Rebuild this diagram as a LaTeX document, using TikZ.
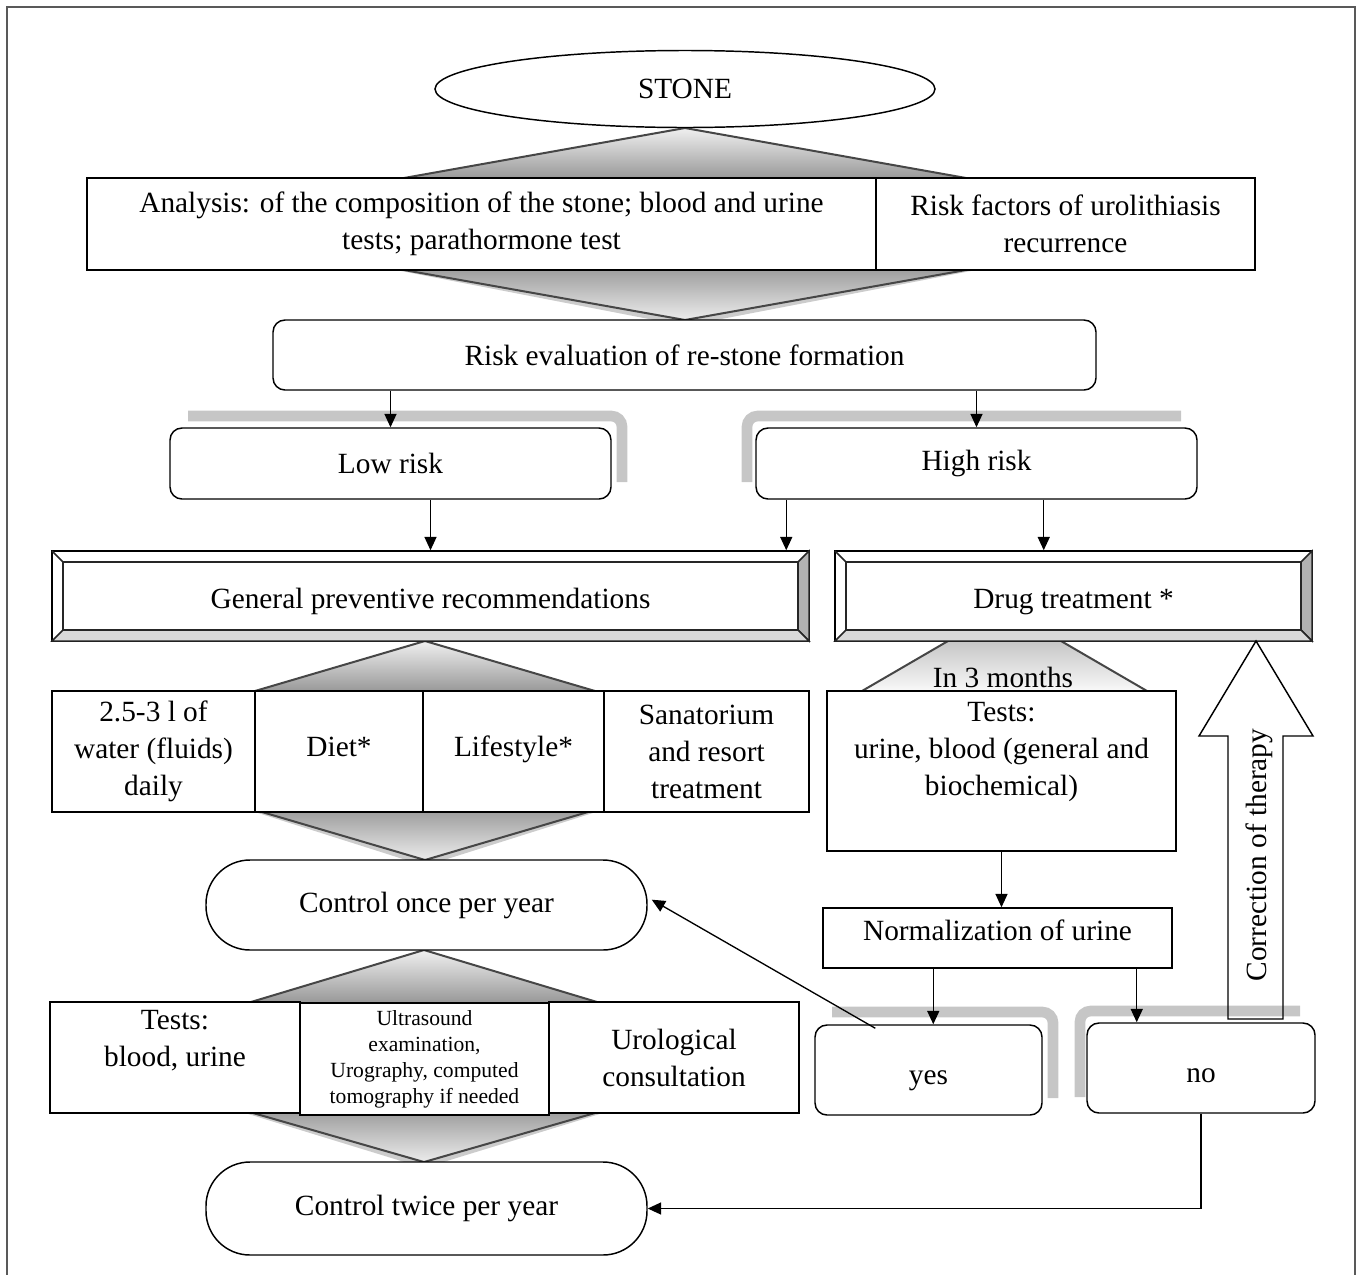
\documentclass[tikz,border=0pt]{standalone}
\usepackage{fontspec}
\setmainfont{Liberation Serif}
\usetikzlibrary{arrows.meta,shapes.geometric}

\begin{document}
\begin{tikzpicture}[x=0.75pt,y=0.75pt,yscale=-1,xscale=1,
  box/.style={draw, line width=1.1pt, fill=white, inner sep=0pt, align=center, font=\fontsize{22}{27.75}\selectfont},
  rbox/.style={box, rounded corners=9pt},
  pill/.style={box, rounded corners=33pt},
  txt/.style={inner sep=0pt, align=center, font=\fontsize{22}{27.75}\selectfont},
  arr/.style={line width=1pt, -{Triangle[length=10pt,width=9pt]}},
  upper/.style={top color=gray!12, bottom color=gray!80},
  lower/.style={top color=gray!75, bottom color=gray!15},
  edge/.style={draw=gray!55!black, line width=1.5pt},
  rshadow/.style={fill=gray!40},
  band/.style={draw=gray!45, line width=8pt, rounded corners=8pt},
  bevel/.style={line width=1.1pt, draw=black!85}
]
\useasboundingbox (0,0) rectangle (1361,1275);

%Frame
\draw [gray!70!black, line width=0.9pt] (7,1275) -- (7,7) -- (1355,7) -- (1355,1275) ;

%Shape: Diamond (top)
\fill [upper] (685,128) -- (966,178) -- (404,178) -- cycle ;
\fill [rshadow] (396,270) -- (976,270) -- (685,326) -- cycle ;
\fill [lower] (404,270) -- (966,270) -- (685,320) -- cycle ;
\draw [edge] (404,178) -- (685,128) -- (966,178) ;
\draw [edge] (404,270) -- (685,320) -- (966,270) ;
%Shape: Diamond (general)
\fill [upper] (425,641) -- (595,691) -- (255,691) -- cycle ;
\fill [rshadow] (255,812) -- (596,812) -- (425,866) -- cycle ;
\fill [lower] (262,812) -- (588,812) -- (425,860) -- cycle ;
\draw [edge] (255,691) -- (425,641) -- (595,691) ;
\draw [edge] (262,812) -- (425,860) -- (588,812) ;
%Shape: Diamond (control)
\fill [upper] (424,950) -- (597,1002) -- (251,1002) -- cycle ;
\fill [rshadow] (245,1113) -- (603,1113) -- (424,1168) -- cycle ;
\fill [lower] (253,1113) -- (595,1113) -- (424,1162) -- cycle ;
\draw [edge] (251,1002) -- (424,950) -- (597,1002) ;
\draw [edge] (253,1113) -- (424,1162) -- (595,1113) ;
%Shape: Trapezoid
\fill [top color=gray!45, bottom color=gray!5] (948,641) -- (1061,641) -- (1147,691) -- (862,691) -- cycle ;
\draw [edge] (862,691) -- (948,641) ;
\draw [edge] (1061,641) -- (1147,691) ;

%Shadows
\draw [band] (188,416) -- (622,416) -- (622,482) ;
\draw [band] (1181,416) -- (747,416) -- (747,482) ;
\draw [band] (832,1012) -- (1053,1012) -- (1053,1098) ;
\draw [band] (1300,1011) -- (1080,1011) -- (1080,1097) ;

%Nodes
\node [box, ellipse, minimum width=375pt, minimum height=57.75pt] (stone) at (685,89) {STONE};
\node [box, minimum width=591.75pt, minimum height=69pt] (analysis) at (481.5,224) {Analysis: of the composition of the stone; blood and urine\\tests; parathormone test};
\node [box, minimum width=284.25pt, minimum height=69pt] (riskf) at (1065.5,224) {Risk factors of urolithiasis\\recurrence};
\node [rbox, minimum width=617.25pt, minimum height=52.5pt] (reval) at (684.5,355) {Risk evaluation of re-stone formation};
\node [rbox, minimum width=330.75pt, minimum height=53.25pt] (low) at (390.5,463.5) {Low risk};
\node [rbox, minimum width=330.75pt, minimum height=53.25pt] (high) at (976.5,463.5) {High risk};

%Shape: Bevel box (general)
\node [box, minimum width=567.75pt, minimum height=67.5pt, text height=24pt, text depth=5pt] (gpr) at (430.5,596) {General preventive recommendations};
\draw [bevel, fill=gray!60] (809,551) -- (809,641) -- (798,630) -- (798,562) -- cycle ;
\draw [bevel, fill=gray!30] (52,641) -- (809,641) -- (798,630) -- (63,630) -- cycle ;
\draw [bevel] (52,551) -- (63,562) ;
\draw [bevel] (63,562) rectangle (798,630) ;
%Shape: Bevel box (drug)
\node [box, minimum width=357.75pt, minimum height=67.5pt, text height=24pt, text depth=5pt] (drug) at (1073.5,596) {Drug treatment *};
\draw [bevel, fill=gray!60] (1312,551) -- (1312,641) -- (1301,630) -- (1301,562) -- cycle ;
\draw [bevel, fill=gray!30] (835,641) -- (1312,641) -- (1301,630) -- (846,630) -- cycle ;
\draw [bevel] (835,551) -- (846,562) ;
\draw [bevel] (846,562) rectangle (1301,630) ;

\node [box, minimum width=152.25pt, minimum height=90.75pt] (water) at (153.5,751.5) {2.5-3 l of\\water (fluids)\\daily};
\node [box, minimum width=126pt, minimum height=90.75pt, text height=15pt, text depth=8pt] (diet) at (339,751.5) {Diet*};
\node [box, minimum width=135.75pt, minimum height=90.75pt, text height=15pt, text depth=8pt] (life) at (513.5,751.5) {Lifestyle*};
\node [box, minimum width=153.75pt, minimum height=90.75pt] (sana) at (706.5,751.5) {Sanatorium\\and resort\\treatment};

\node [txt] (months) at (1003,677) {In 3 months};
\node [box, minimum width=261.75pt, minimum height=120pt] (tests) at (1001.5,771) {};
\node [txt, anchor=north] (teststxt) at (1001.5,702) {Tests:\\urine, blood (general and\\biochemical)};
\node [box, minimum width=261.75pt, minimum height=45pt] (norm) at (997.5,938) {};
\node [txt] (normtxt) at (997.5,930) {Normalization of urine};

\node [pill, minimum width=330.75pt, minimum height=67.5pt] (conce) at (426.5,905) {Control once per year};

\node [box, minimum width=187.5pt, minimum height=83.25pt] (tblood) at (175,1057.5) {};
\node [txt] (tbloodtxt) at (175,1041) {Tests:\\blood, urine};
\node [box, minimum width=186.75pt, minimum height=84pt, font=\fontsize{16.2}{19.5}\selectfont] (ultra) at (424.5,1059) {Ultrasound\\examination,\\Urography, computed\\tomography if needed};
\node [box, minimum width=187.5pt, minimum height=83.25pt] (urol) at (674,1057.5) {Urological\\consultation};

\node [rbox, minimum width=170.25pt, minimum height=67.5pt, text height=26.5pt, text depth=4.8pt] (yes) at (928.5,1070) {yes};
\node [rbox, minimum width=171pt, minimum height=67.5pt, text height=22pt, text depth=0pt] (no) at (1201,1068) {no};

\node [pill, minimum width=330.75pt, minimum height=69.75pt] (ctwice) at (426.5,1208.5) {Control twice per year};

%Shape: Up arrow
\draw [line width=1.1pt] (1256,641) -- (1313,736) -- (1283,736) -- (1283,1019) -- (1228,1019) -- (1228,736) -- (1199,736) -- cycle ;
\node [txt, rotate=90] (corr) at (1259,855) {Correction of therapy};

%Straight Lines
\draw [arr] (reval.south -| low.north) -- (low.north) ;
\draw [arr] (reval.south -| high.north) -- (high.north) ;
\draw [arr] (low.south -| gpr.north) -- (gpr.north) ;
\draw [arr] ([xshift=23.25pt]high.south west) -- ([xshift=23.25pt]high.south west |- gpr.north) ;
\draw [arr] ([xshift=-115.5pt]high.south east) -- ([xshift=-115.5pt]high.south east |- drug.north) ;
\draw [arr] (tests.south) -- (tests.south |- norm.north) ;
\draw [arr] ([xshift=83.25pt]norm.south west) -- ([xshift=83.25pt]norm.south west |- yes.north) ;
\draw [arr] ([xshift=-27pt]norm.south east) -- ([xshift=-27pt]norm.south east |- no.north) ;
\draw [arr] ([xshift=45.75pt,yshift=3pt]yes.north west) -- ([xshift=3pt,yshift=-4pt]conce.east) ;
\draw [arr] (no.south) |- (ctwice.east) ;

\end{tikzpicture}
\end{document}
